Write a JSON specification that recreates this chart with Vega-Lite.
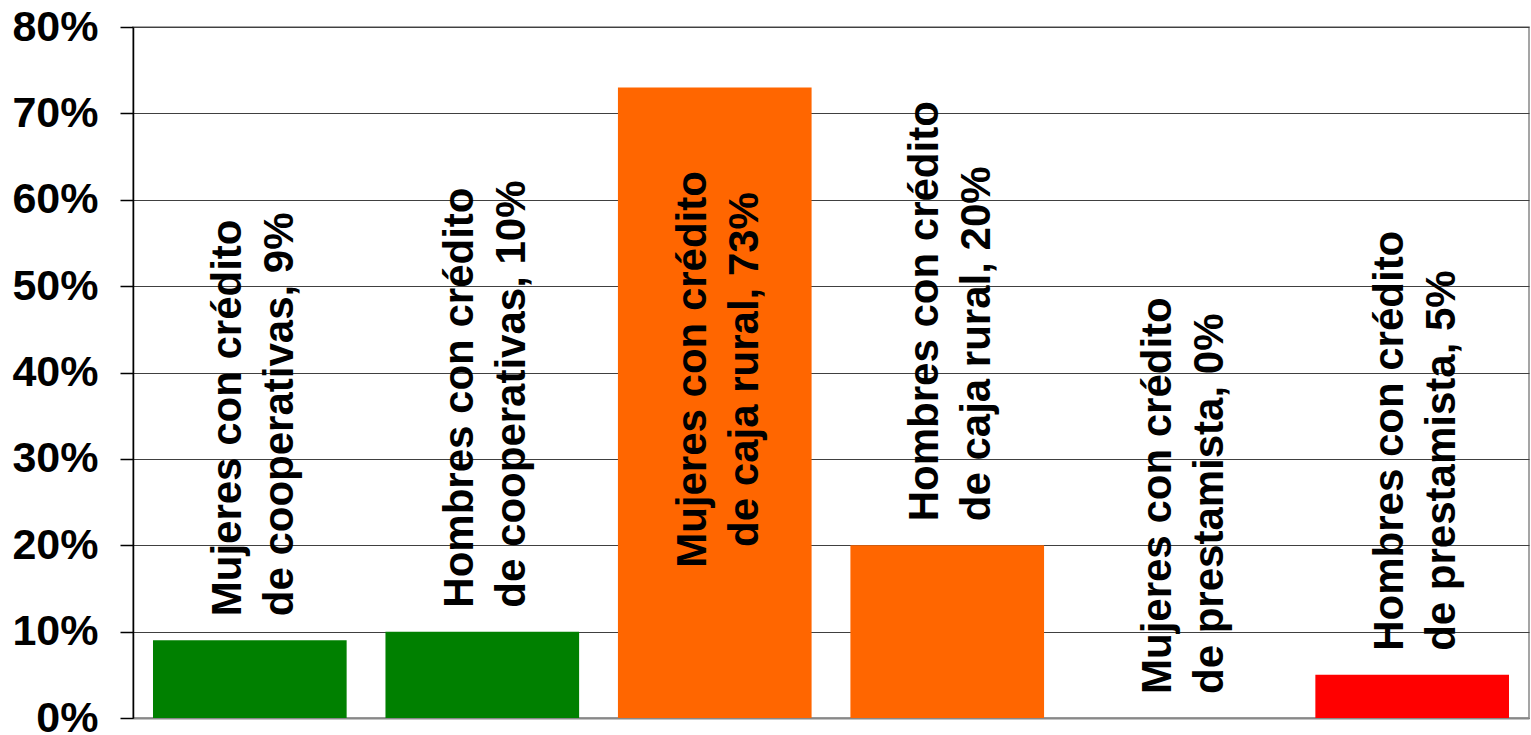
{
  "$schema": "https://vega.github.io/schema/vega-lite/v6.json",
  "width": 1396,
  "height": 691,
  "autosize": "none",
  "padding": {"left": 133, "top": 27, "right": 2, "bottom": 17},
  "background": "white",
  "config": {
    "view": {"stroke": "#888888", "strokeWidth": 1.5},
    "font": "Liberation Sans"
  },
  "data": {
    "values": [
      {"cat": "M-coop", "value": 0.09, "tipo": "cooperativas", "label": "Mujeres con crédito\nde cooperativas, 9%"},
      {"cat": "H-coop", "value": 0.10, "tipo": "cooperativas", "label": "Hombres con crédito\nde cooperativas, 10%"},
      {"cat": "M-caja", "value": 0.73, "tipo": "caja rural", "label": "Mujeres con crédito\nde caja rural, 73%"},
      {"cat": "H-caja", "value": 0.20, "tipo": "caja rural", "label": "Hombres con crédito\nde caja rural, 20%"},
      {"cat": "M-prest", "value": 0.0, "tipo": "prestamista", "label": "Mujeres con crédito\nde prestamista, 0%"},
      {"cat": "H-prest", "value": 0.05, "tipo": "prestamista", "label": "Hombres con crédito\nde prestamista, 5%"}
    ]
  },
  "encoding": {
    "x": {
      "field": "cat", "type": "nominal", "sort": null,
      "scale": {"paddingInner": 0.167, "paddingOuter": 0.086},
      "axis": {"labels": false, "ticks": false, "title": null, "domainColor": "#888888", "domainWidth": 2}
    },
    "y": {
      "field": "value", "type": "quantitative",
      "scale": {"domain": [0, 0.8], "nice": false},
      "axis": {
        "values": [0, 0.1, 0.2, 0.3, 0.4, 0.5, 0.6, 0.7, 0.8],
        "format": ".0%", "title": null,
        "labelFont": "Liberation Sans", "labelFontWeight": "bold", "labelFontSize": 43,
        "labelColor": "black", "labelPadding": 22,
        "tickColor": "black", "tickSize": 13, "tickWidth": 1.5,
        "domainColor": "black", "domainWidth": 1.5,
        "gridColor": "#404040", "gridWidth": 1
      }
    }
  },
  "layer": [
    {
      "mark": {"type": "bar"},
      "encoding": {
        "color": {
          "field": "tipo", "type": "nominal",
          "scale": {"domain": ["cooperativas", "caja rural", "prestamista"], "range": ["#008000", "#FF6600", "#FF0000"]},
          "legend": null
        }
      }
    },
    {
      "transform": [{"filter": "datum.value < 0.5"}],
      "mark": {
        "type": "text", "angle": 270, "align": "left", "baseline": "middle",
        "dx": 24, "dy": -22, "lineBreak": "\n", "lineHeight": 52,
        "font": "Liberation Sans", "fontWeight": "bold", "fontSize": 42, "color": "black"
      },
      "encoding": {"text": {"field": "label"}}
    },
    {
      "transform": [{"filter": "datum.value >= 0.5"}],
      "mark": {
        "type": "text", "angle": 270, "align": "center", "baseline": "middle",
        "dx": -282, "dy": -22, "lineBreak": "\n", "lineHeight": 52,
        "font": "Liberation Sans", "fontWeight": "bold", "fontSize": 42, "color": "black"
      },
      "encoding": {"text": {"field": "label"}}
    }
  ]
}
